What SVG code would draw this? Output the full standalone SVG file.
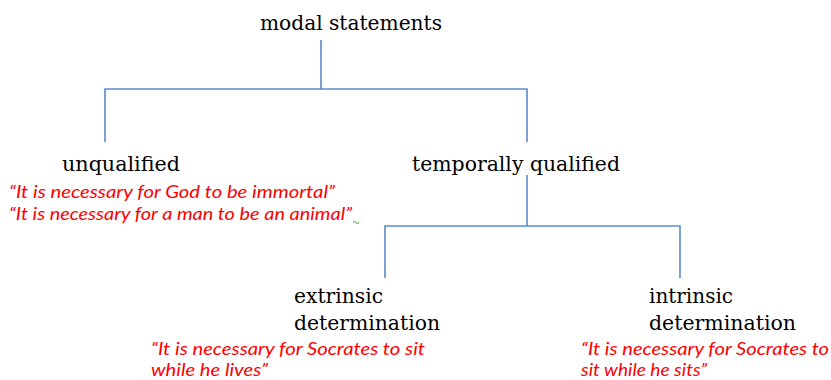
<svg xmlns="http://www.w3.org/2000/svg" width="831" height="380" viewBox="0 0 831 380">
  <style>
    .lbl { font-family: "DejaVu Serif Condensed", "DejaVu Serif", serif; font-stretch: condensed; font-size: 20px; fill: #000; }
    .ex { font-family: Lato, "Liberation Sans", sans-serif; font-style: italic; font-size: 17.5px; fill: #ff0000; }
    .edge { stroke: #5b8bc9; stroke-width: 1.6; fill: none; }
  </style>
  <rect width="831" height="380" fill="#fff"/>

  <g id="connectors">
    <path class="edge" d="M321 40V89M105 142V89H527V142"/>
    <path class="edge" d="M527 175V226M385 278V226H680V278"/>
  </g>

  <g id="modal-statements">
    <text class="lbl" x="260" y="30" textLength="182" lengthAdjust="spacingAndGlyphs">modal statements</text>
  </g>

  <g id="unqualified">
    <text class="lbl" x="62" y="171" textLength="118" lengthAdjust="spacingAndGlyphs">unqualified</text>
    <text class="ex" x="9" y="198" textLength="326" lengthAdjust="spacingAndGlyphs">“It is necessary for God to be immortal”</text>
    <text class="ex" x="9" y="220" textLength="343" lengthAdjust="spacingAndGlyphs">“It is necessary for a man to be an animal”</text>
    <path d="M353 222.5q1.5 -2 3 0t3 0" stroke="#3a9a3a" stroke-width="1" fill="none"/>
  </g>

  <g id="temporally-qualified">
    <text class="lbl" x="412" y="171" textLength="208" lengthAdjust="spacingAndGlyphs">temporally qualified</text>
  </g>

  <g id="extrinsic-determination">
    <text class="lbl" x="294" y="303" textLength="89" lengthAdjust="spacingAndGlyphs">extrinsic</text>
    <text class="lbl" x="294" y="330" textLength="146" lengthAdjust="spacingAndGlyphs">determination</text>
    <text class="ex" x="151" y="355" textLength="274" lengthAdjust="spacingAndGlyphs">“It is necessary for Socrates to sit</text>
    <text class="ex" x="151" y="375.5" textLength="117" lengthAdjust="spacingAndGlyphs">while he lives”</text>
  </g>

  <g id="intrinsic-determination">
    <text class="lbl" x="649" y="303" textLength="84" lengthAdjust="spacingAndGlyphs">intrinsic</text>
    <text class="lbl" x="649" y="330" textLength="147" lengthAdjust="spacingAndGlyphs">determination</text>
    <text class="ex" x="581" y="355" textLength="248" lengthAdjust="spacingAndGlyphs">“It is necessary for Socrates to</text>
    <text class="ex" x="581" y="375.5" textLength="126" lengthAdjust="spacingAndGlyphs">sit while he sits”</text>
  </g>
</svg>
